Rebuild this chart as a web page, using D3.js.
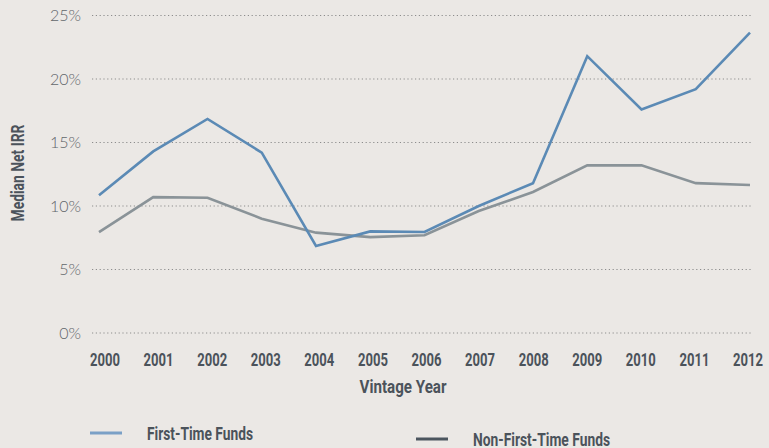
<!DOCTYPE html>
<html>
<head>
<meta charset="utf-8">
<script src="https://d3js.org/d3.v7.min.js"></script>
<style>
  body { margin: 0; background: #ebe8e5; }
  svg { display: block; }
</style>
</head>
<body>
<svg id="chart" width="769" height="448"></svg>
<script>
// data
var years = ["2000","2001","2002","2003","2004","2005","2006","2007","2008","2009","2010","2011","2012"];
var firstTime = [10.85, 14.3, 16.85, 14.2, 6.85, 8.0, 7.95, 10.0, 11.8, 21.8, 17.6, 19.2, 23.65];
var nonFirstTime = [7.95, 10.7, 10.65, 9.0, 7.9, 7.55, 7.7, 9.6, 11.1, 13.2, 13.2, 11.8, 11.65];
var yTicks = [0, 5, 10, 15, 20, 25];
var seriesNames = ["First-Time Funds", "Non-First-Time Funds"];

var svg = d3.select("#chart");
var condensed = "Roboto, sans-serif";
var darkText = "#4b535b";

// narrow bold text: squeeze a normal bold face into the width seen in the picture
function narrow(sel, size, width) {
  return sel.attr("fill", darkText)
    .style("font-family", condensed)
    .style("font-weight", "bold")
    .style("font-size", size + "px")
    .attr("textLength", width)
    .attr("lengthAdjust", "spacingAndGlyphs");
}

var x = d3.scalePoint().domain(years).range([99, 750]);
var y = d3.scaleLinear().domain([0, 25]).range([333, 15.5]);

// gridlines
svg.append("g")
  .selectAll("line")
  .data(yTicks)
  .join("line")
  .attr("x1", 92).attr("x2", 752)
  .attr("y1", d => y(d)).attr("y2", d => y(d))
  .attr("stroke", "#8d8d8d")
  .attr("stroke-width", 1.2)
  .attr("stroke-dasharray", "1.2,2.6");

// y labels
svg.append("g")
  .selectAll("text")
  .data(yTicks)
  .join("text")
  .attr("x", 81)
  .attr("y", d => y(d))
  .attr("dy", "0.36em")
  .attr("text-anchor", "end")
  .attr("fill", "#62666b")
  .style("font-family", "Lato, sans-serif")
  .style("font-weight", 300)
  .style("font-size", "16px")
  .text(d => d + "%");

// x labels
var xl = d3.scalePoint().domain(years).range([105, 748]);
narrow(svg.append("g")
  .selectAll("text")
  .data(years)
  .join("text")
  .attr("x", d => xl(d))
  .attr("y", 366)
  .attr("text-anchor", "middle"), 19, 30)
  .text(d => d);

// axis titles
narrow(svg.append("text")
  .attr("x", 403).attr("y", 393)
  .attr("text-anchor", "middle"), 19, 87)
  .text("Vintage Year");

narrow(svg.append("text")
  .attr("transform", "translate(24,173) rotate(-90)")
  .attr("text-anchor", "middle"), 18, 97)
  .text("Median Net IRR");

// lines
var line = d3.line()
  .x((d, i) => x(years[i]))
  .y(d => y(d));

svg.append("path")
  .datum(nonFirstTime)
  .attr("fill", "none")
  .attr("stroke", "#8a9398")
  .attr("stroke-width", 2.6)
  .attr("d", line);

svg.append("path")
  .datum(firstTime)
  .attr("fill", "none")
  .attr("stroke", "#5b8ab5")
  .attr("stroke-width", 2.6)
  .attr("d", line);

// legend
var legend = [
  {name: seriesNames[0], color: "#7aa0c6", x: 90, y: 433, w: 106},
  {name: seriesNames[1], color: "#4b555e", x: 416, y: 439, w: 137}
];
var lg = svg.append("g").selectAll("g").data(legend).join("g");
lg.append("line")
  .attr("x1", d => d.x).attr("x2", d => d.x + 32)
  .attr("y1", d => d.y).attr("y2", d => d.y)
  .attr("stroke", d => d.color)
  .attr("stroke-width", 3);
lg.each(function(d) {
  narrow(d3.select(this).append("text")
    .attr("x", d.x + 57)
    .attr("y", d.y)
    .attr("dy", "0.36em"), 19, d.w)
    .text(d.name);
});
</script>
</body>
</html>
